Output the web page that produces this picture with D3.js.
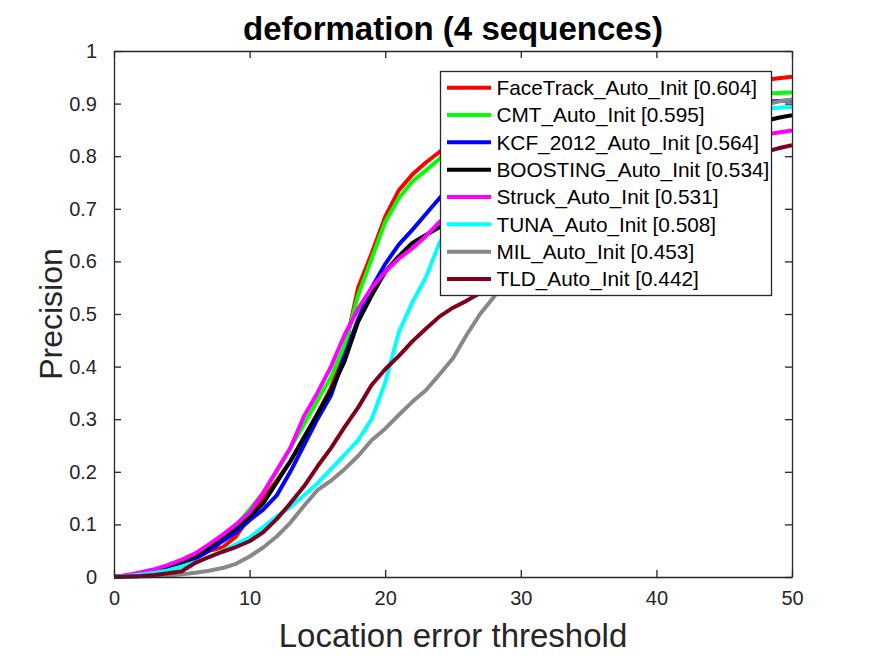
<!DOCTYPE html>
<html>
<head>
<meta charset="utf-8">
<script src="https://cdn.jsdelivr.net/npm/d3@7"></script>
<style>
  html, body { margin: 0; padding: 0; background: #fff; }
  svg { display: block; font-family: "Liberation Sans", Arial, Helvetica, sans-serif; }
</style>
</head>
<body>
<svg id="chart" width="875" height="656"></svg>
<script>
const titleText = "deformation (4 sequences)";
const xLabel = "Location error threshold";
const yLabel = "Precision";
const thresholds = d3.range(0, 51);
const xTicks = [0, 10, 20, 30, 40, 50];
const yTicks = [0, 0.1, 0.2, 0.3, 0.4, 0.5, 0.6, 0.7, 0.8, 0.9, 1];
const yTickLabels = ["0", "0.1", "0.2", "0.3", "0.4", "0.5", "0.6", "0.7", "0.8", "0.9", "1"];

const names = ["FaceTrack_Auto_Init [0.604]", "CMT_Auto_Init [0.595]", "KCF_2012_Auto_Init [0.564]",
  "BOOSTING_Auto_Init [0.534]", "Struck_Auto_Init [0.531]", "TUNA_Auto_Init [0.508]",
  "MIL_Auto_Init [0.453]", "TLD_Auto_Init [0.442]"];
const colors = ["#ff0000", "#00ff00", "#0000ff", "#000000", "#ff00ff", "#00ffff", "#888888", "#80001a"];

const faceTrack = [0,0.003,0.006,0.01,0.015,0.022,0.035,0.05,0.056,0.077,0.115,0.15,0.183,0.22,0.26,0.31,0.36,0.43,0.55,0.615,0.685,0.735,0.765,0.788,0.808,0.825,0.84,0.85,0.86,0.87,0.877,0.884,0.89,0.895,0.9,0.905,0.91,0.914,0.918,0.921,0.924,0.927,0.93,0.933,0.936,0.938,0.941,0.943,0.945,0.948,0.951];
const cmt = [0,0.003,0.006,0.012,0.018,0.027,0.04,0.057,0.075,0.098,0.128,0.16,0.2,0.245,0.29,0.335,0.38,0.44,0.535,0.605,0.675,0.72,0.752,0.773,0.795,0.81,0.825,0.838,0.848,0.857,0.865,0.872,0.878,0.883,0.887,0.891,0.894,0.897,0.9,0.902,0.904,0.906,0.908,0.91,0.912,0.914,0.915,0.917,0.919,0.92,0.921];
const kcf = [0,0.002,0.005,0.009,0.015,0.023,0.035,0.05,0.068,0.085,0.108,0.128,0.155,0.2,0.25,0.3,0.345,0.42,0.49,0.55,0.595,0.632,0.66,0.69,0.72,0.745,0.765,0.782,0.797,0.81,0.822,0.832,0.841,0.849,0.856,0.862,0.867,0.872,0.876,0.88,0.884,0.887,0.89,0.892,0.895,0.897,0.899,0.901,0.903,0.905,0.906];
const boosting = [0,0.003,0.006,0.01,0.017,0.027,0.04,0.056,0.076,0.093,0.115,0.14,0.18,0.22,0.265,0.31,0.355,0.41,0.485,0.535,0.58,0.61,0.635,0.65,0.665,0.68,0.695,0.71,0.725,0.738,0.75,0.762,0.772,0.782,0.79,0.798,0.806,0.813,0.82,0.826,0.832,0.838,0.843,0.848,0.852,0.856,0.86,0.864,0.867,0.873,0.878];
const struck = [0,0.004,0.009,0.015,0.023,0.033,0.045,0.062,0.08,0.1,0.123,0.16,0.203,0.245,0.305,0.35,0.4,0.46,0.51,0.55,0.58,0.605,0.625,0.648,0.675,0.69,0.705,0.718,0.73,0.742,0.752,0.762,0.771,0.779,0.786,0.793,0.799,0.805,0.81,0.815,0.819,0.823,0.827,0.83,0.833,0.836,0.838,0.84,0.841,0.845,0.849];
const tuna = [0,0.002,0.005,0.008,0.013,0.02,0.028,0.038,0.05,0.062,0.075,0.095,0.115,0.133,0.155,0.178,0.205,0.232,0.26,0.3,0.37,0.465,0.522,0.57,0.635,0.675,0.71,0.74,0.765,0.785,0.8,0.812,0.823,0.832,0.84,0.847,0.853,0.858,0.863,0.867,0.871,0.874,0.877,0.88,0.882,0.884,0.886,0.888,0.89,0.892,0.894];
const mil = [0,0,0.001,0.002,0.003,0.005,0.008,0.012,0.017,0.025,0.039,0.056,0.077,0.103,0.135,0.165,0.183,0.205,0.23,0.26,0.282,0.308,0.333,0.355,0.385,0.416,0.46,0.5,0.532,0.57,0.605,0.64,0.67,0.7,0.725,0.748,0.768,0.786,0.802,0.816,0.829,0.84,0.85,0.859,0.867,0.874,0.881,0.889,0.898,0.904,0.908];
const tld = [0,0.001,0.002,0.004,0.007,0.011,0.027,0.038,0.048,0.057,0.068,0.085,0.11,0.14,0.172,0.21,0.245,0.285,0.322,0.365,0.395,0.42,0.448,0.472,0.495,0.512,0.525,0.54,0.555,0.575,0.593,0.61,0.627,0.643,0.658,0.672,0.686,0.699,0.711,0.722,0.733,0.743,0.753,0.763,0.772,0.781,0.79,0.8,0.808,0.815,0.821];

const seriesValues = [faceTrack, cmt, kcf, boosting, struck, tuna, mil, tld];

const svg = d3.select("#chart");
const axisColor = "#262626";
const x = d3.scaleLinear().domain([0, 50]).range([114, 792]);
const y = d3.scaleLinear().domain([0, 1]).range([577, 51]);

svg.append("rect").attr("x", 114).attr("y", 51).attr("width", 678).attr("height", 526).attr("fill", "#fff");

const line = d3.line().x((d, i) => x(thresholds[i])).y(d => y(d));
svg.append("clipPath").attr("id", "clip").append("rect")
  .attr("x", 114).attr("y", 49).attr("width", 678).attr("height", 530);
const plotG = svg.append("g").attr("clip-path", "url(#clip)");
seriesValues.forEach((vals, k) => {
  plotG.append("path").datum(vals).attr("d", line)
    .attr("fill", "none").attr("stroke", colors[k]).attr("stroke-width", 4)
    .attr("stroke-linejoin", "round");
});

const tickLen = 7;
const axBottom = svg.append("g").attr("transform", "translate(0,577)")
  .call(d3.axisBottom(x).tickValues(xTicks).tickSizeInner(-tickLen).tickSizeOuter(0).tickPadding(14).tickFormat(d3.format("d")));
const axTop = svg.append("g").attr("transform", "translate(0,51)")
  .call(d3.axisTop(x).tickValues(xTicks).tickSizeInner(-tickLen).tickSizeOuter(0).tickFormat(""));
const axLeft = svg.append("g").attr("transform", "translate(114,0)")
  .call(d3.axisLeft(y).tickValues(yTicks).tickSizeInner(-tickLen).tickSizeOuter(0).tickPadding(17).tickFormat((d, i) => yTickLabels[i]));
const axRight = svg.append("g").attr("transform", "translate(792,0)")
  .call(d3.axisRight(y).tickValues(yTicks).tickSizeInner(-tickLen).tickSizeOuter(0).tickFormat(""));
[axBottom, axTop, axLeft, axRight].forEach(a => {
  a.select(".domain").attr("stroke", axisColor).attr("stroke-width", 1.3);
  a.selectAll(".tick line").attr("stroke", axisColor).attr("stroke-width", 1.3);
  a.selectAll(".tick text").attr("fill", axisColor).attr("font-size", 20)
    .attr("font-family", "Liberation Sans, Arial, sans-serif");
});
axBottom.selectAll(".tick text").attr("dy", "0.71em");

svg.append("text").attr("x", 453).attr("y", 40).attr("text-anchor", "middle")
  .attr("font-size", 33).attr("font-weight", "bold").attr("fill", "#000").text(titleText);
svg.append("text").attr("x", 453).attr("y", 647).attr("text-anchor", "middle")
  .attr("font-size", 33).attr("fill", axisColor).text(xLabel);
svg.append("text").attr("transform", "translate(62,314) rotate(-90)").attr("text-anchor", "middle")
  .attr("font-size", 32).attr("fill", axisColor).text(yLabel);

const lg = svg.append("g");
lg.append("rect").attr("x", 440.5).attr("y", 71.5).attr("width", 331).attr("height", 224)
  .attr("fill", "#fff").attr("stroke", axisColor).attr("stroke-width", 1.3);
names.forEach((nm, k) => {
  const cy = 87.7 + k * 27.33;
  lg.append("line").attr("x1", 447).attr("x2", 491).attr("y1", cy).attr("y2", cy)
    .attr("stroke", colors[k]).attr("stroke-width", 4);
  lg.append("text").attr("x", 496.5).attr("y", cy).attr("dy", "0.35em")
    .attr("font-size", 20.8).attr("fill", "#000").text(nm);
});
</script>
</body>
</html>
